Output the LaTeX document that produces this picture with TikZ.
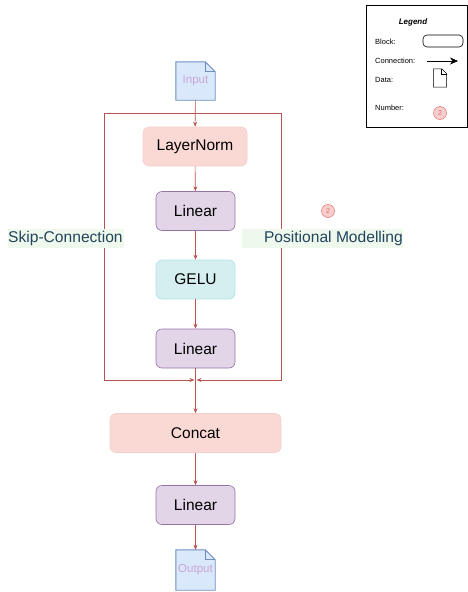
\documentclass[tikz,border=0pt]{standalone}
\usepackage{fontspec}
\setmainfont{Liberation Sans}
\usetikzlibrary{arrows.meta}
\definecolor{conn}{HTML}{B85450}
\definecolor{pinkfill}{HTML}{FAD9D5}
\definecolor{pinkline}{HTML}{F2CFCB}
\definecolor{purpfill}{HTML}{E1D5E7}
\definecolor{purpline}{HTML}{9673A6}
\definecolor{cyanfill}{HTML}{D5EEF0}
\definecolor{cyanline}{HTML}{B0E3E6}
\definecolor{docfill}{HTML}{DAE8FC}
\definecolor{docline}{HTML}{6C8EBF}
\definecolor{doctext}{HTML}{C9A6D4}
\definecolor{lbltext}{HTML}{23445D}
\definecolor{lblfill}{HTML}{EEF8EC}
\definecolor{numfill}{HTML}{F8CECC}
\definecolor{numline}{HTML}{E07070}
\tikzset{
  x=1pt, y=-1pt,
  blk/.style={rounded corners=6pt, minimum height=39pt, inner sep=0pt, font=\fontsize{15.5}{17}\selectfont, line width=0.6pt},
  pinkblk/.style={blk, fill=pinkfill, draw=pinkline},
  purpblk/.style={blk, fill=purpfill, draw=purpline, minimum width=79pt},
  cyanblk/.style={blk, fill=cyanfill, draw=cyanline, minimum width=79pt},
  docnode/.style={minimum width=39pt, minimum height=38pt, inner sep=0pt, text=doctext, font=\fontsize{11.5}{13}\selectfont},
  docshape/.style={fill=docfill, draw=docline, line width=0.9pt},
  cn/.style={draw=conn, line width=0.6pt, -{Stealth[length=5pt,width=4pt]}},
  cnl/.style={draw=conn, line width=0.6pt},
  sidelbl/.style={fill=lblfill, inner sep=0pt, minimum height=19pt},
  sidetxt/.style={text=lbltext, font=\fontsize{15.6}{17}\selectfont, inner sep=0pt},
  numc/.style={circle, fill=numfill, draw=numline, line width=0.5pt, minimum size=13pt, inner sep=0pt, text=numline, font=\fontsize{7}{8}\selectfont},
  legtxt/.style={font=\fontsize{7.5}{9}\selectfont, anchor=west, inner sep=0pt}
}
\newcommand{\docpath}[2]{%
  \draw[#2] (#1.north west) -- ([xshift=-10pt]#1.north east) -- ([yshift=-10pt]#1.north east) -- (#1.south east) -- (#1.south west) -- cycle;
  \draw[#2, fill=none] ([xshift=-10pt]#1.north east) -- ([xshift=-10pt,yshift=-10pt]#1.north east) -- ([yshift=-10pt]#1.north east);}
\begin{document}
\begin{tikzpicture}
\useasboundingbox (0,0) rectangle (468,592);
% nodes
\node[docnode] (inp) at (195.5,81) {};
\docpath{inp}{docshape}
\node[docnode] at (inp.center) {Input};
\node[pinkblk, minimum width=104pt] (ln) at (195,146.5) {LayerNorm};
\node[purpblk] (lin1) at (195.5,211) {Linear};
\node[cyanblk] (gelu) at (195.5,279.5) {GELU};
\node[purpblk] (lin2) at (195.5,348.5) {Linear};
\node[pinkblk, minimum width=171pt] (cat) at (195.5,433) {Concat};
\node[purpblk] (lin3) at (195.5,505) {Linear};
\node[docnode, minimum height=40pt] (out) at (195.5,570) {};
\docpath{out}{docshape}
\node[docnode] at (out.center) {Output};
% frame
\coordinate (tl) at (104,113);
\coordinate (tr) at (281,113);
\coordinate (bl) at (104,380);
\coordinate (br) at (281,380);
\coordinate (mg) at (195.5,380);
\draw[cnl] (tl) -- (tr);
\draw[cn, shorten >=1pt] (tl) -- (bl) -- (mg);
\draw[cn, shorten >=1pt] (tr) -- (br) -- (mg);
% connectors
\draw[cn] (inp) -- (ln);
\draw[cn] (ln) -- (lin1);
\draw[cn] (lin1) -- (gelu);
\draw[cn] (gelu) -- (lin2);
\draw[cn] (lin2) -- (cat);
\draw[cn] (cat) -- (lin3);
\draw[cn] (lin3) -- (out);
% side labels
\node[sidelbl, minimum width=116pt] (skipbg) at (65.5,238.5) {};
\node[sidetxt, anchor=west] (skip) at (8,238.5) {Skip-Connection};
\node[sidelbl, minimum width=161pt] (posbg) at (322.5,238.5) {};
\node[sidetxt, anchor=east] (pos) at (403,238.5) {Positional Modelling};
\node[numc] (n2) at (328,211) {2};
% legend
\node[draw=black, line width=0.6pt, minimum width=101pt, minimum height=122pt, anchor=north west, inner sep=0pt] (leg) at (366,5) {};
\node[font=\fontsize{8}{9}\selectfont\bfseries\itshape] (legt) at (413,22) {Legend};
\node[legtxt] (lblk) at (375,42) {Block:};
\node[draw=black, line width=0.6pt, rounded corners=4pt, minimum width=40pt, minimum height=12pt, inner sep=0pt] (lbox) at (443,41) {};
\node[legtxt] (lcon) at (375,61) {Connection:};
\coordinate (la1) at (427,61);
\coordinate (la2) at (458,61);
\draw[line width=0.6pt, -{Stealth[length=8pt,width=7pt]}] (la1) -- (la2);
\node[legtxt] (ldat) at (375,80) {Data:};
\node[minimum width=13pt, minimum height=18pt, inner sep=0pt] (ldoc) at (440,78) {};
\draw[line width=0.5pt] (ldoc.north west) -- ([xshift=-5pt]ldoc.north east) -- ([yshift=-5pt]ldoc.north east) -- (ldoc.south east) -- (ldoc.south west) -- cycle;
\draw[line width=0.5pt] ([xshift=-5pt]ldoc.north east) -- ([xshift=-5pt,yshift=-5pt]ldoc.north east) -- ([yshift=-5pt]ldoc.north east);
\node[legtxt] (lnum) at (375,108) {Number:};
\node[numc] (ln2) at (440,113) {2};
\end{tikzpicture}
\end{document}
